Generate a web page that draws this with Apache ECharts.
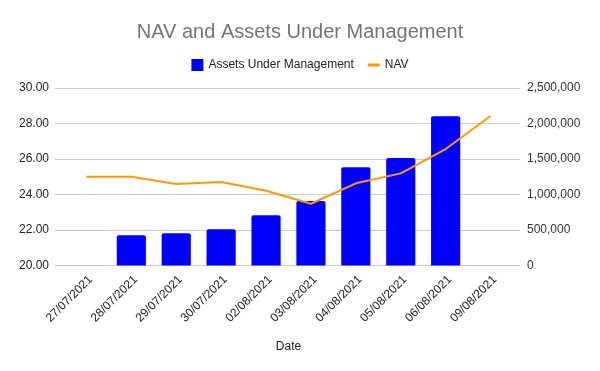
<!DOCTYPE html>
<html>
<head>
<meta charset="utf-8">
<script src="https://cdn.jsdelivr.net/npm/echarts@6/dist/echarts.min.js"></script>
<style>html,body{margin:0;padding:0;background:#fff}#c{width:600px;height:371px}</style>
</head>
<body>
<div id="c"></div>
<script>
var categories = ['27/07/2021','28/07/2021','29/07/2021','30/07/2021','02/08/2021','03/08/2021','04/08/2021','05/08/2021','06/08/2021','09/08/2021'];
var aum = [null, 425000, 453000, 510000, 707000, 908000, 1383000, 1514000, 2101000, null];
var nav = [25.00, 25.00, 24.59, 24.70, 24.21, 23.48, 24.63, 25.19, 26.56, 28.42];
var leftTicks = {min: 20, max: 30, interval: 2};
var rightTicks = {min: 0, max: 2500000, interval: 500000};

var chart = echarts.init(document.getElementById('c'), null, {renderer: 'canvas'});
var font = 'Arial, "Liberation Sans", sans-serif';
chart.setOption({
  backgroundColor: '#fff',
  animation: false,
  textStyle: {fontFamily: font},
  title: {
    text: 'NAV and Assets Under Management',
    left: 'center', top: 17,
    textStyle: {fontSize: 20, fontWeight: 'normal', color: '#757575', fontFamily: font}
  },
  legend: {
    top: 54, left: 'center',
    itemWidth: 12, itemHeight: 12, itemGap: 14,
    textStyle: {fontSize: 12, color: '#222', fontFamily: font},
    data: [
      {name: 'Assets Under Management', icon: 'rect'},
      {name: 'NAV', icon: 'path://M0,0 L12,0 L12,3 L0,3 Z'}
    ]
  },
  grid: [
    {left: 55, right: 80, top: 88, bottom: 105.5, containLabel: false},
    {left: 64, right: 87, top: 88, bottom: 105.5, containLabel: false}
  ],
  xAxis: [
    {
      type: 'category', gridIndex: 0, data: categories,
      axisLine: {show: false}, axisTick: {show: false}, axisLabel: {show: false}
    },
    {
      type: 'category', gridIndex: 1,
      data: categories,
      name: 'Date', nameLocation: 'middle', nameGap: 75,
      nameTextStyle: {fontSize: 12, color: '#222', fontFamily: font},
      axisLine: {show: false},
      axisTick: {show: false},
      axisLabel: {rotate: 45, fontSize: 12, color: '#222', margin: 8, align: 'right', verticalAlign: 'top', interval: 0, fontFamily: font}
    }
  ],
  yAxis: [
    {
      type: 'value', gridIndex: 0, position: 'left',
      min: leftTicks.min, max: leftTicks.max, interval: leftTicks.interval,
      axisLine: {show: false}, axisTick: {show: false},
      axisLabel: {fontSize: 12, color: '#222', margin: 6, fontFamily: font, formatter: function(v){return v.toFixed(2);}},
      splitLine: {lineStyle: {color: '#cccccc', width: 1}}
    },
    {
      type: 'value', gridIndex: 0, position: 'right',
      min: rightTicks.min, max: rightTicks.max, interval: rightTicks.interval,
      axisLine: {show: false}, axisTick: {show: false},
      axisLabel: {fontSize: 12, color: '#333', margin: 7, fontFamily: font, formatter: function(v){return v.toLocaleString('en-US');}},
      splitLine: {show: false}
    },
    {
      type: 'value', gridIndex: 1, position: 'left',
      min: leftTicks.min, max: leftTicks.max, interval: leftTicks.interval,
      axisLine: {show: false}, axisTick: {show: false}, axisLabel: {show: false}, splitLine: {show: false}
    },
    {
      type: 'value', gridIndex: 1, position: 'right',
      min: rightTicks.min, max: rightTicks.max, interval: rightTicks.interval,
      axisLine: {show: false}, axisTick: {show: false}, axisLabel: {show: false}, splitLine: {show: false}
    }
  ],
  series: [
    {
      name: 'Assets Under Management', type: 'bar', xAxisIndex: 1, yAxisIndex: 3,
      data: aum, barCategoryGap: '35%',
      itemStyle: {color: '#0000ff', borderRadius: [2, 2, 0, 0]}
    },
    {
      name: 'NAV', type: 'line', xAxisIndex: 1, yAxisIndex: 2,
      data: nav, showSymbol: false, symbol: 'none',
      lineStyle: {color: '#ff9900', width: 2},
      itemStyle: {color: '#ff9900'}
    }
  ]
});
</script>
</body>
</html>
